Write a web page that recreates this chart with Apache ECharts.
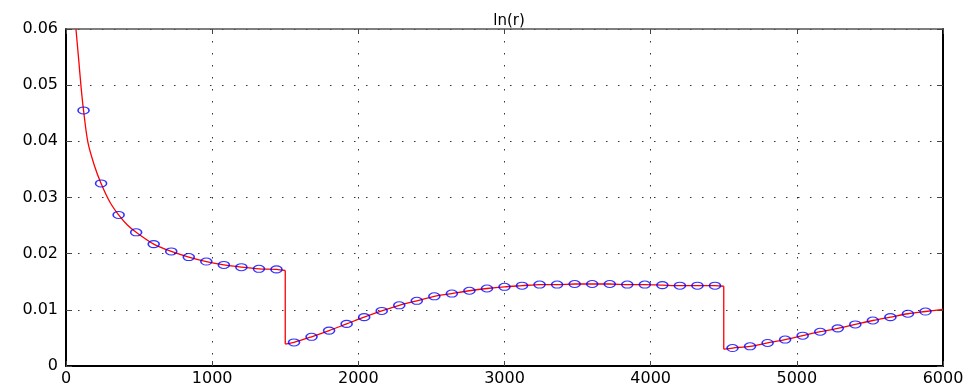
<!DOCTYPE html>
<html>
<head>
<meta charset="utf-8">
<script src="https://cdn.jsdelivr.net/npm/echarts@6/dist/echarts.min.js"></script>
<style>
html,body{margin:0;padding:0;background:#fff;}
#c{width:975px;height:390px;}
</style>
</head>
<body>
<div id="c"></div>
<script>
// ---- data ----
const title = 'ln(r)';
const xTicks = [0, 1000, 2000, 3000, 4000, 5000, 6000];
const yTickLabels = ['0', '0.01', '0.02', '0.03', '0.04', '0.05', '0.06'];

// sampled markers (every 120)
const markerX = [120,240,360,480,600,720,840,960,1080,1200,1320,1440,
  1560,1680,1800,1920,2040,2160,2280,2400,2520,2640,2760,2880,3000,3120,3240,3360,3480,3600,3720,3840,3960,4080,4200,4320,4440,
  4560,4680,4800,4920,5040,5160,5280,5400,5520,5640,5760,5880];
const markerY = [0.0455,0.0325,0.0269,0.0238,0.0217,0.0204,0.0194,0.0186,0.0180,0.0176,0.0173,0.0172,
  0.0042,0.0052,0.0063,0.0075,0.0087,0.0098,0.0108,0.0116,0.0124,0.0129,0.0134,0.0138,0.0141,0.0143,0.0145,0.0145,0.0146,0.0146,0.0146,0.0145,0.0145,0.0144,0.0143,0.0143,0.0143,
  0.0032,0.0035,0.0041,0.0047,0.0054,0.0061,0.0067,0.0074,0.0081,0.0087,0.0093,0.0097];

// continuous curve, three pieces joined by vertical drops
const seg1X = [68,87,103,120,150,194,240,300,360,420,480,600,720,840,960,1080,1200,1320,1440,1500];
const seg1Y = [0.0600,0.0545,0.0497,0.0455,0.0398,0.0357,0.0325,0.0292,0.0269,0.0251,0.0238,0.0217,0.0204,0.0194,0.0186,0.0180,0.0176,0.0173,0.0172,0.0170];
const seg2X = [1500,1560,1680,1800,1920,2040,2160,2280,2400,2520,2640,2760,2880,3000,3120,3240,3360,3480,3600,3720,3840,3960,4080,4200,4320,4440,4500];
const seg2Y = [0.0039,0.0042,0.0052,0.0063,0.0075,0.0087,0.0098,0.0108,0.0116,0.0124,0.0129,0.0134,0.0138,0.0141,0.0143,0.0145,0.0145,0.0146,0.0146,0.0146,0.0145,0.0145,0.0144,0.0143,0.0143,0.0143,0.0142];
const seg3X = [4500,4560,4680,4800,4920,5040,5160,5280,5400,5520,5640,5760,5880,6000];
const seg3Y = [0.0030,0.0032,0.0035,0.0041,0.0047,0.0054,0.0061,0.0067,0.0074,0.0081,0.0087,0.0093,0.0097,0.0101];

const font = 'DejaVu Sans';
const chart = echarts.init(document.getElementById('c'), null, {renderer: 'canvas'});
const gridDots = {show: true, lineStyle: {color: '#333', width: 1, type: [1.5, 10.5]}};
const tickIn = (len) => ({show: true, inside: true, length: len, lineStyle: {color: '#444', width: 1}});
const red = {color: '#ff0000', width: 1.3};

function curve(xs, ys) {
  return {
    type: 'line', xAxisIndex: 0, yAxisIndex: 0,
    data: xs.map((x, i) => [x, ys[i]]),
    showSymbol: false, symbol: 'none', smooth: 0.3,
    lineStyle: red, clip: true, z: 2
  };
}
function drop(x, yTop, yBottom) {
  return {
    type: 'line', xAxisIndex: 0, yAxisIndex: 0,
    data: [[x, yTop], [x, yBottom]],
    showSymbol: false, symbol: 'none', lineStyle: red, z: 2
  };
}

chart.setOption({
  backgroundColor: '#fff',
  animation: false,
  title: {
    text: title, left: 504, top: 9, textAlign: 'center',
    textStyle: {fontFamily: font, fontSize: 15, fontWeight: 'normal', color: '#000'}
  },
  grid: {left: 66, right: 32, top: 29, bottom: 24, containLabel: false},
  xAxis: [{
    type: 'value', position: 'bottom', min: xTicks[0], max: xTicks[xTicks.length - 1], interval: 1000,
    axisLine: {show: true, onZero: false, lineStyle: {color: '#000', width: 2}},
    axisTick: tickIn(5),
    axisLabel: {fontFamily: font, fontSize: 16, color: '#000', margin: 5,
      formatter: v => String(v)},
    splitLine: gridDots
  }, {
    type: 'value', position: 'top', min: xTicks[0], max: xTicks[xTicks.length - 1], interval: 1000,
    axisLine: {show: true, onZero: false, lineStyle: {color: '#555', width: 1.5}},
    axisTick: tickIn(5),
    axisLabel: {show: false},
    splitLine: {show: false}
  }],
  yAxis: [{
    type: 'value', position: 'left', min: 0, max: 0.06, interval: 0.01,
    axisLine: {show: true, onZero: false, lineStyle: {color: '#000', width: 2}},
    axisTick: tickIn(6),
    axisLabel: {fontFamily: font, fontSize: 16, color: '#000', margin: 8,
      formatter: v => yTickLabels[Math.round(v / 0.01)]},
    splitLine: gridDots
  }, {
    type: 'value', position: 'right', min: 0, max: 0.06, interval: 0.01,
    axisLine: {show: true, onZero: false, lineStyle: {color: '#000', width: 2}},
    axisTick: tickIn(6),
    axisLabel: {show: false},
    splitLine: {show: false}
  }],
  series: [
    curve(seg1X, seg1Y),
    drop(seg1X[seg1X.length - 1], seg1Y[seg1Y.length - 1], seg2Y[0]),
    curve(seg2X, seg2Y),
    drop(seg2X[seg2X.length - 1], seg2Y[seg2Y.length - 1], seg3Y[0]),
    curve(seg3X, seg3Y),
    {
      type: 'scatter',
      xAxisIndex: 0, yAxisIndex: 0,
      data: markerX.map((x, i) => [x, markerY[i]]),
      symbol: 'circle', symbolSize: [11, 7],
      itemStyle: {color: 'rgba(0,0,0,0)', borderColor: '#0000ff', borderWidth: 1.3},
      z: 3
    }
  ]
});
</script>
</body>
</html>
